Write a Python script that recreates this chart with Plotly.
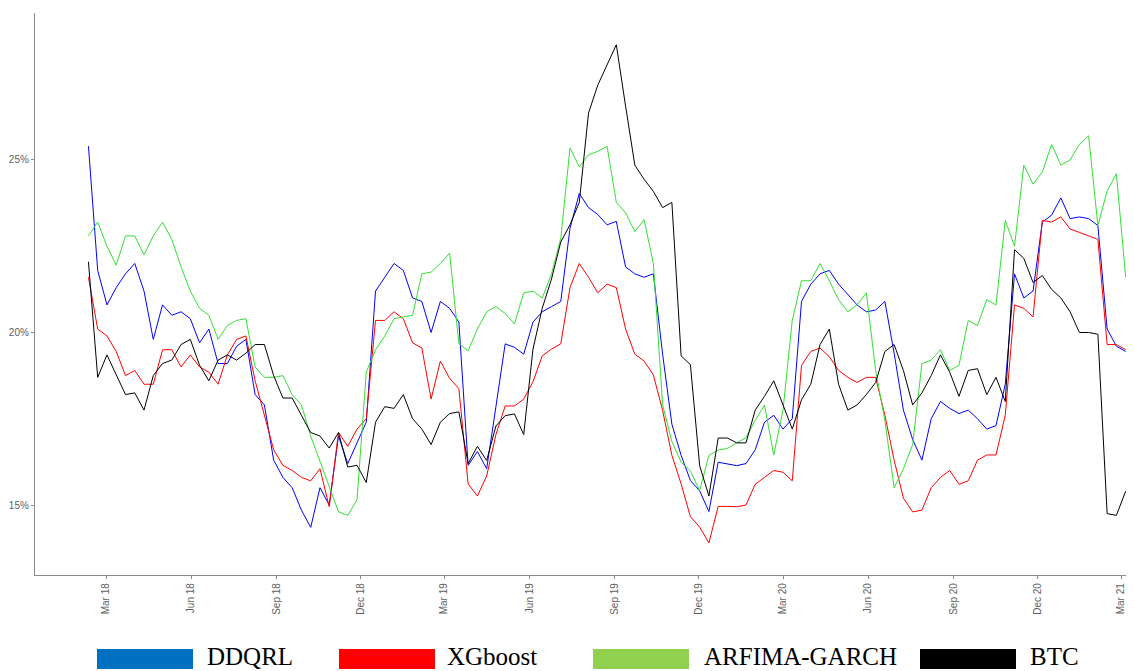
import pandas as pd
import plotly.graph_objects as go

# 10-day sampling of the rolling series, first point 10 Feb 2018
start_date = "2018-02-10"
n_points = 113

ddqrl = [25.4, 21.8, 20.8, 21.3, 21.7, 22.0, 21.2, 19.8, 20.8, 20.5,
         20.6, 20.4, 19.7, 20.1, 19.1, 19.1, 19.6, 19.8, 18.2, 17.9,
         16.3, 15.8, 15.5, 14.85, 14.35, 15.5, 15.0, 17.0, 16.2, 16.8,
         17.4, 21.2, 21.6, 22.0, 21.8, 21.0, 20.9, 20.0, 20.9, 20.7,
         20.3, 16.15, 16.55, 16.05, 17.85, 19.67, 19.57, 19.37, 20.3, 20.6,
         20.75, 20.9, 23.02, 24.03, 23.62, 23.42, 23.12, 23.22, 21.9, 21.7,
         21.6, 21.7, 19.37, 17.34, 16.44, 15.71, 15.41, 14.81, 16.24, 16.19,
         16.14, 16.2, 16.6, 17.4, 17.6, 17.2, 17.5, 20.9, 21.4, 21.7,
         21.8, 21.4, 21.1, 20.8, 20.6, 20.65, 20.9, 19.4, 17.75, 16.9,
         16.3, 17.5, 18.0, 17.8, 17.65, 17.75, 17.5, 17.2, 17.3, 18.5,
         21.7, 21.0, 21.2, 23.2, 23.4, 23.9, 23.3, 23.35, 23.3, 23.1,
         20.1, 19.6, 19.45]

xgboost = [21.6, 20.1, 19.9, 19.45, 18.75, 18.9, 18.5, 18.5, 19.5, 19.5,
           19.0, 19.35, 19.0, 18.85, 18.5, 19.35, 19.8, 19.9, 18.6, 17.6,
           16.6, 16.15, 16.0, 15.8, 15.7, 16.05, 14.95, 17.1, 16.7, 17.2,
           17.5, 20.35, 20.35, 20.6, 20.4, 19.7, 19.55, 18.07, 19.17, 18.67,
           18.37, 15.61, 15.26, 15.84, 17.04, 17.87, 17.87, 18.07, 18.57, 19.32,
           19.52, 19.67, 21.3, 22.0, 21.6, 21.15, 21.4, 21.3, 20.1, 19.37,
           19.17, 18.77, 17.74, 16.44, 15.61, 14.66, 14.36, 13.9, 14.96, 14.96,
           14.95, 15.0, 15.6, 15.8, 16.0, 15.95, 15.7, 19.05, 19.45, 19.55,
           19.3, 18.9, 18.7, 18.55, 18.7, 18.7, 17.6, 16.3, 15.2, 14.8,
           14.85, 15.5, 15.8, 16.0, 15.6, 15.7, 16.3, 16.45, 16.45, 17.6,
           20.8, 20.7, 20.45, 23.25, 23.2, 23.35, 23.0, 22.9, 22.8, 22.7,
           19.65, 19.65, 19.5]

arfima_garch = [22.8, 23.2, 22.5, 21.95, 22.8, 22.8, 22.25, 22.8, 23.2, 22.7,
                21.9, 21.2, 20.7, 20.5, 19.8, 20.2, 20.35, 20.4, 19.0, 18.7,
                18.7, 18.75, 18.2, 17.9, 17.0, 16.25, 15.5, 14.8, 14.7, 15.15,
                18.85, 19.5, 19.9, 20.4, 20.45, 20.5, 21.7, 21.75, 22.0, 22.3,
                19.67, 19.47, 20.1, 20.6, 20.75, 20.55, 20.25, 21.15, 21.2, 21.0,
                21.7, 22.72, 25.35, 24.8, 25.15, 25.25, 25.4, 23.77, 23.47, 22.92,
                23.27, 22.0, 17.9, 16.84, 16.24, 15.99, 15.41, 16.44, 16.59, 16.64,
                16.8, 16.95, 17.45, 17.9, 16.45, 17.75, 20.35, 21.5, 21.5, 22.0,
                21.5, 20.95, 20.6, 20.8, 21.15, 18.9, 17.45, 15.5, 16.05, 16.75,
                19.1, 19.2, 19.5, 18.9, 19.05, 20.35, 20.2, 20.95, 20.8, 23.25,
                22.5, 24.85, 24.3, 24.65, 25.45, 24.85, 25.0, 25.45, 25.7, 23.1,
                24.1, 24.6, 21.6]

btc = [22.05, 18.7, 19.35, 18.75, 18.2, 18.25, 17.75, 18.75, 19.1, 19.2,
       19.65, 19.8, 19.05, 18.6, 19.2, 19.35, 19.2, 19.4, 19.65, 19.65,
       18.75, 18.1, 18.1, 17.6, 17.1, 17.0, 16.65, 17.1, 16.1, 16.15,
       15.65, 17.4, 17.85, 17.8, 18.2, 17.5, 17.2, 16.75, 17.4, 17.65,
       17.7, 16.2, 16.7, 16.29, 17.29, 17.59, 17.64, 17.04, 19.52, 20.7,
       21.55, 22.62, 23.12, 23.77, 26.36, 27.17, 27.78, 28.34, 26.56, 24.85,
       24.44, 24.09, 23.62, 23.77, 19.32, 19.07, 16.14, 15.26, 16.94, 16.94,
       16.8, 16.8, 17.75, 18.15, 18.6, 17.9, 17.2, 18.05, 18.5, 19.65,
       20.1, 18.5, 17.75, 17.9, 18.2, 18.55, 19.45, 19.65, 18.9, 17.9,
       18.25, 18.75, 19.35, 18.85, 18.15, 18.9, 18.95, 18.2, 18.7, 18.0,
       22.4, 22.15, 21.45, 21.65, 21.25, 21.0, 20.6, 20.0, 20.0, 19.95,
       14.75, 14.7, 15.4]

tick_dates = ["2018-03-01", "2018-06-01", "2018-09-01", "2018-12-01",
              "2019-03-01", "2019-06-01", "2019-09-01", "2019-12-01",
              "2020-03-01", "2020-06-01", "2020-09-01", "2020-12-01",
              "2021-03-01"]
tick_labels = ["Mar 18", "Jun 18", "Sep 18", "Dec 18", "Mar 19", "Jun 19",
               "Sep 19", "Dec 19", "Mar 20", "Jun 20", "Sep 20", "Dec 20",
               "Mar 21"]
y_ticks = [15, 20, 25]
y_labels = ["15%", "20%", "25%"]

names = ["DDQRL", "XGboost", "ARFIMA-GARCH", "BTC"]
line_colors = ["#0000FF", "#FF0000", "#33E033", "#000000"]
legend_colors = ["#0070C0", "#FF0000", "#92D050", "#000000"]

dates = pd.date_range(start_date, periods=n_points, freq="10D")

fig = go.Figure()
for name, vals, col in zip(names, [ddqrl, xgboost, arfima_garch, btc], line_colors):
    fig.add_trace(go.Scatter(x=dates, y=vals, mode="lines", name=name,
                             line=dict(color=col, width=1), showlegend=False))

# the page puts an 8px body margin around the plot div
OFF = 8
W, H = 1134 - OFF, 671 - OFF
L, R, T, B = 35 - OFF, 0, 13 - OFF, 96

def px(x):
    return (x - OFF - L) / (W - L - R)

def py(y):
    return (H - B - (y - OFF)) / (H - T - B)

# legend drawn by hand: big colour boxes with serif labels
box_left = [97, 339, 593, 920]
text_left = [205, 445, 702, 1028]
for name, col, bx, tx in zip(names, legend_colors, box_left, text_left):
    fig.add_shape(type="rect", xref="paper", yref="paper",
                  x0=px(bx), x1=px(bx + 96), y0=py(669), y1=py(649),
                  fillcolor=col, line=dict(width=0))
    fig.add_annotation(text=name, xref="paper", yref="paper",
                       x=px(tx), y=py(656), xanchor="left", yanchor="middle",
                       showarrow=False,
                       font=dict(family="Liberation Serif", size=25, color="black"))

axis_grey = "#8a8a8a"
fig.update_layout(
    width=W, height=H, autosize=False,
    margin=dict(l=L, r=R, t=T, b=B),
    plot_bgcolor="white", paper_bgcolor="white",
    font=dict(family="Liberation Sans", size=10, color="#5e5e5e"),
    xaxis=dict(range=["2017-12-14 07:00", "2021-03-15 00:00"],
               tickvals=tick_dates, ticktext=tick_labels, tickangle=-90,
               ticks="outside", ticklen=3, tickcolor=axis_grey,
               showline=True, linecolor=axis_grey, linewidth=1.3,
               showgrid=False, zeroline=False, automargin=False),
    yaxis=dict(range=[12.971, 29.26], tickvals=y_ticks, ticktext=y_labels,
               ticks="outside", ticklen=3, tickcolor=axis_grey,
               showline=True, linecolor=axis_grey, linewidth=1.3,
               showgrid=False, zeroline=False, automargin=False),
)

fig.write_html("out.html")
